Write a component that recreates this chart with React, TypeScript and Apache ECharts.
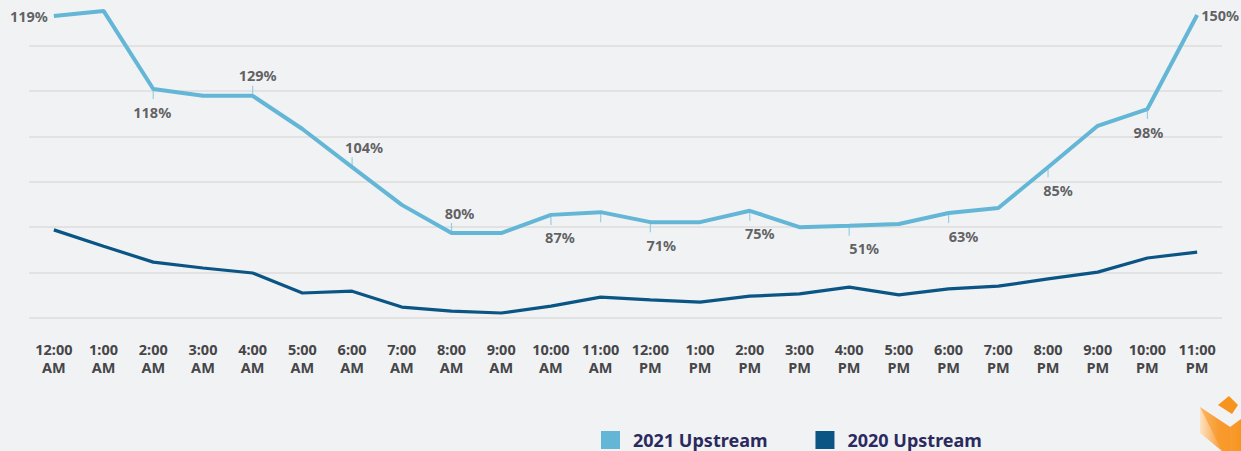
import React, { useEffect, useRef } from "react";
import * as echarts from "echarts";

const hours = [
  "12:00\nAM", "1:00\nAM", "2:00\nAM", "3:00\nAM", "4:00\nAM", "5:00\nAM",
  "6:00\nAM", "7:00\nAM", "8:00\nAM", "9:00\nAM", "10:00\nAM", "11:00\nAM",
  "12:00\nPM", "1:00\nPM", "2:00\nPM", "3:00\nPM", "4:00\nPM", "5:00\nPM",
  "6:00\nPM", "7:00\nPM", "8:00\nPM", "9:00\nPM", "10:00\nPM", "11:00\nPM",
];

const upstream2021 = [
  66.5, 67.6, 50.4, 48.9, 48.9, 41.6, 33.2, 24.9, 18.7, 18.7, 22.7, 23.3,
  21.1, 21.1, 23.6, 20.0, 20.3, 20.7, 23.1, 24.2, 33.2, 42.3, 46.0, 66.7,
];

const upstream2020 = [
  19.4, 15.8, 12.3, 11.0, 9.9, 5.5, 5.9, 2.4, 1.5, 1.1, 2.6, 4.6,
  4.0, 3.5, 4.8, 5.3, 6.8, 5.1, 6.4, 7.0, 8.6, 10.1, 13.2, 14.5,
];

const growthLabels = [
  "119%", "", "118%", "", "129%", "", "104%", "", "80%", "", "87%", "",
  "71%", "", "75%", "", "51%", "", "63%", "", "85%", "", "98%", "150%",
];

// placement of each growth marker: "left" | "right" | "up" | "down" | "none"
const markerPlacement = [
  "left", "none", "down", "none", "up", "none", "up", "none", "up", "none", "down", "down",
  "down", "none", "down", "none", "down", "none", "down", "none", "down", "none", "down", "right",
];
const labelDx = [
  0, 0, -1, 0, 5, 0, 12, 0, 8, 0, 9, 0,
  11, 0, 10, 0, 15, 0, 15, 0, 10, 0, 1, 0,
];

const LIGHT = "#63b6d6";
const DARK = "#0b5585";
const TICK = "#7fc6df";
const FONT = "'Noto Sans', 'Open Sans', sans-serif";

export default function App() {
  const ref = useRef<HTMLDivElement>(null);

  useEffect(() => {
    if (!ref.current) return;
    const chart = echarts.init(ref.current, undefined, { renderer: "svg" });

    const markerData = upstream2021.map((v, i) => {
      const p = markerPlacement[i];
      if (p === "none") return "-";
      const base: any = { value: v };
      if (p === "left" || p === "right") {
        base.symbolSize = 0;
        base.label = {
          show: true,
          position: p,
          distance: p === "left" ? 6 : 4,
          formatter: growthLabels[i],
        };
      } else {
        const dir = p === "up" ? -1 : 1;
        base.symbolOffset = [0, dir * 5];
        base.label = {
          show: growthLabels[i] !== "",
          position: p === "up" ? "top" : "bottom",
          distance: p === "up" ? 3 : 5,
          offset: [labelDx[i], 0],
          formatter: growthLabels[i],
        };
      }
      return base;
    });

    const gridColors = ["#dcdcdc", "#dcdcdc", "#dcdcdc", "#dcdcdc", "#dcdcdc", "#dcdcdc", "#dcdcdc", "rgba(0,0,0,0)"];

    chart.setOption({
      animation: false,
      backgroundColor: "#f1f2f4",
      grid: { left: 29, right: 19, top: 0, bottom: 133, containLabel: false },
      xAxis: {
        type: "category",
        data: hours,
        boundaryGap: true,
        axisLine: { show: false },
        axisTick: { show: false },
        axisLabel: {
          interval: 0,
          margin: 22,
          color: "#464648",
          fontFamily: FONT,
          fontWeight: "bold",
          fontSize: 14.5,
          lineHeight: 18,
        },
      },
      yAxis: {
        type: "value",
        min: 0,
        max: 70,
        interval: 10,
        axisLabel: { show: false },
        axisLine: { show: false },
        axisTick: { show: false },
        splitLine: { show: true, lineStyle: { color: gridColors, width: 1.5 } },
      },
      legend: {
        left: 601,
        top: 431,
        padding: 0,
        itemWidth: 19,
        itemHeight: 18,
        itemGap: 48,
        icon: "rect",
        data: [
          { name: "2021 Upstream", itemStyle: { color: LIGHT } },
          { name: "2020 Upstream", itemStyle: { color: DARK } },
        ],
        textStyle: {
          color: "#2b2a5e",
          fontFamily: FONT,
          fontWeight: "bold",
          fontSize: 18,
          lineHeight: 18,
          padding: [0, 0, 0, 8],
        },
      },
      series: [
        {
          name: "2020 Upstream",
          type: "line",
          data: upstream2020,
          symbol: "none",
          lineStyle: { color: DARK, width: 3.2 },
          itemStyle: { color: DARK },
          z: 2,
        },
        {
          name: "2021 Upstream",
          type: "line",
          data: upstream2021,
          symbol: "none",
          lineStyle: { color: LIGHT, width: 4 },
          itemStyle: { color: LIGHT },
          z: 3,
        },
        {
          name: "growth",
          type: "scatter",
          data: markerData,
          symbol: "rect",
          symbolSize: [1.2, 10],
          itemStyle: { color: TICK },
          silent: true,
          z: 1,
          label: {
            color: "#3a3a3c",
            fontFamily: FONT,
            fontWeight: "bold",
            fontSize: 14.5,
          },
        },
      ],
      graphic: [
        {
          type: "polygon",
          shape: { points: [[1229, 396], [1238, 405], [1232, 414], [1218, 405]] },
          style: { fill: "#f7941d" },
        },
        {
          type: "polygon",
          shape: {
            points: [[1200, 407], [1230, 427], [1241, 419], [1241, 451], [1222, 451], [1200, 433]],
          },
          style: {
            fill: new echarts.graphic.LinearGradient(0, 0, 1, 0, [
              { offset: 0, color: "#fde3c4" },
              { offset: 0.45, color: "#f9a547" },
              { offset: 1, color: "#f7941d" },
            ]),
          },
        },
        {
          type: "polygon",
          shape: { points: [[1200, 407], [1230, 427], [1230, 451], [1222, 451]] },
          style: { fill: "rgba(247,148,29,0.55)" },
        },
      ],
    });

    return () => chart.dispose();
  }, []);

  return (
    <div
      ref={ref}
      style={{ position: "fixed", left: 0, top: 0, width: 1241, height: 451 }}
    />
  );
}
